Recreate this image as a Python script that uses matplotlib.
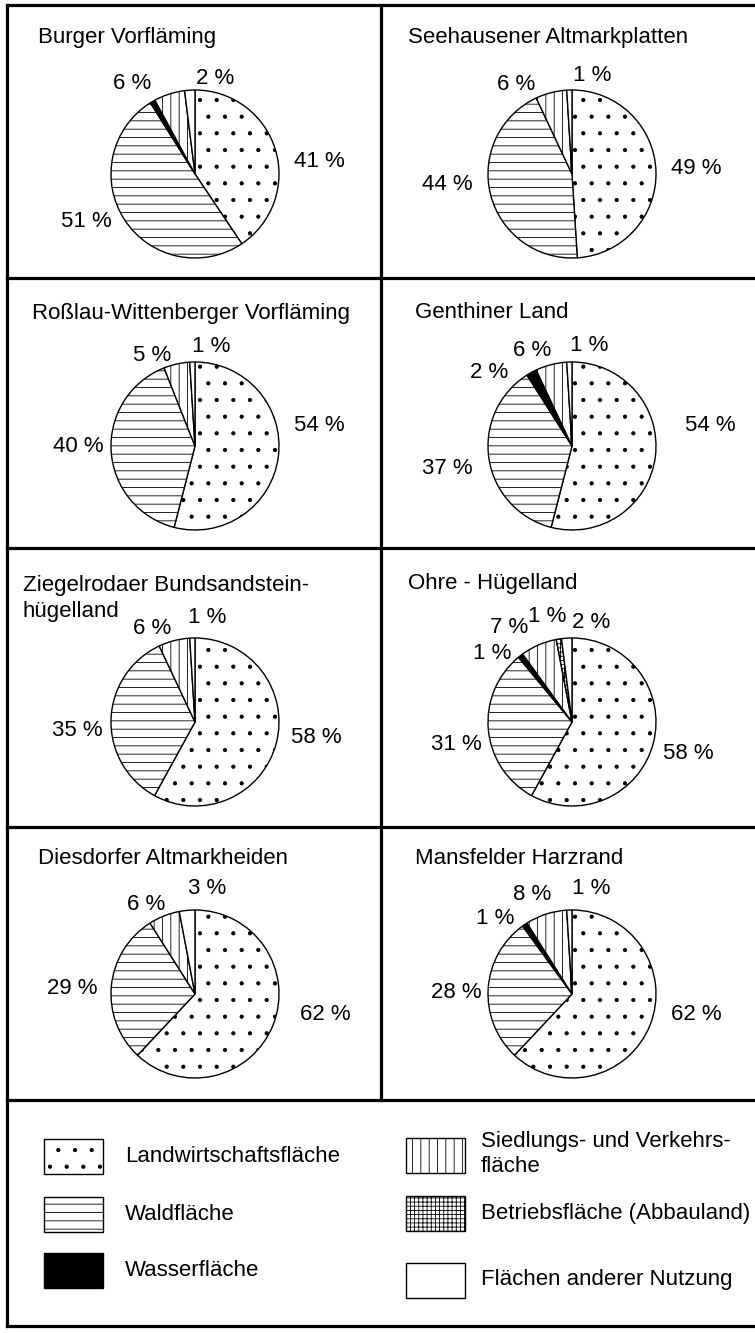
import matplotlib.pyplot as plt
from matplotlib.patches import Rectangle

plt.rcParams['font.family'] = ['Liberation Sans', 'DejaVu Sans']
plt.rcParams['hatch.linewidth'] = 0.6

# Daten: Flächennutzung je Landschaftseinheit (%)
regionen = ['Burger Vorfläming', 'Seehausener Altmarkplatten',
            'Roßlau-Wittenberger Vorfläming', 'Genthiner Land',
            'Ziegelrodaer Bundsandstein-\nhügelland', 'Ohre - Hügelland',
            'Diesdorfer Altmarkheiden', 'Mansfelder Harzrand']
kategorien = ['Landwirtschaftsfläche', 'Waldfläche', 'Wasserfläche',
              'Siedlungs- und Verkehrs-\nfläche', 'Betriebsfläche (Abbauland)',
              'Flächen anderer Nutzung']

landwirtschaft = [41, 49, 54, 54, 58, 58, 62, 62]
wald = [51, 44, 40, 37, 35, 31, 29, 28]
wasser = [1, 0, 0, 2, 0, 1, 0, 1]
siedlung = [6, 6, 5, 6, 6, 7, 6, 8]
betrieb = [0, 0, 0, 0, 0, 1, 0, 0]
andere = [2, 1, 1, 1, 1, 2, 3, 1]

# Stil je Kategorie
farben = ['white', 'white', 'black', 'white', 'white', 'white']
schraffur = ['.', '--', None, '||', '++++', None]

# Lage der Prozentangaben relativ zur Tortenmitte (in Radien)
label_pos = [
    {0: (1.48, 0.15), 1: (-1.29, -0.56), 3: (-0.75, 1.08), 5: (0.24, 1.14)},
    {0: (1.48, 0.06), 1: (-1.49, -0.12), 3: (-0.67, 1.07), 5: (0.24, 1.17)},
    {0: (1.48, 0.24), 1: (-1.39, -0.01), 3: (-0.51, 1.08), 5: (0.19, 1.18)},
    {0: (1.65, 0.24), 1: (-1.48, -0.27), 2: (-0.99, 0.87), 3: (-0.48, 1.14), 5: (0.21, 1.20)},
    {0: (1.45, -0.18), 1: (-1.40, -0.10), 3: (-0.51, 1.11), 5: (0.14, 1.24)},
    {0: (1.38, -0.37), 1: (-1.38, -0.27), 2: (-0.95, 0.82), 3: (-0.75, 1.12),
     4: (-0.29, 1.26), 5: (0.23, 1.18)},
    {0: (1.55, -0.25), 1: (-1.46, 0.06), 3: (-0.58, 1.07), 5: (0.14, 1.25)},
    {0: (1.48, -0.25), 1: (-1.38, 0.02), 2: (-0.92, 0.90), 3: (-0.48, 1.18), 5: (0.23, 1.26)},
]
# Titelposition (x, y der ersten Zeile) in Pixeln
titel_pos = [(38, 37), (408, 37), (32, 314), (415, 312),
             (23, 586), (408, 583), (38, 859), (415, 859)]

W, H = 755, 1333
FS = 16
ZEILE = 26
fig = plt.figure(figsize=(W / 100, H / 100), dpi=100)
fig.patch.set_facecolor('white')

# Hintergrund-Achse in Pixelkoordinaten für Rahmen, Titel, Legende
bg = fig.add_axes([0, 0, 1, 1])
bg.set_xlim(0, W)
bg.set_ylim(H, 0)
bg.axis('off')

lw = 2.3
bg.plot([7, 7], [5, 1326], color='black', lw=lw)
for y in [5, 278, 548, 827, 1100, 1326]:
    bg.plot([7, W], [y, y], color='black', lw=lw)
bg.plot([381, 381], [5, 1100], color='black', lw=lw)

spalten_x = [195, 572]
zeilen_y = [174, 446, 722, 994]
R = 84
S = 1.1

for i, name in enumerate(regionen):
    werte = [landwirtschaft[i], wald[i], wasser[i], siedlung[i], betrieb[i], andere[i]]
    idx = [k for k, v in enumerate(werte) if v > 0]
    cx = spalten_x[i % 2]
    cy = zeilen_y[i // 2]
    size = 2 * R * S
    ax = fig.add_axes([(cx - size / 2) / W, (H - cy - size / 2) / H, size / W, size / H])
    wedges, _ = ax.pie([werte[k] for k in idx], startangle=90, counterclock=False,
                       colors=[farben[k] for k in idx],
                       wedgeprops=dict(edgecolor='black', linewidth=1.0))
    for w, k in zip(wedges, idx):
        if schraffur[k]:
            w.set_hatch(schraffur[k])
    ax.set_xlim(-S, S)
    ax.set_ylim(-S, S)
    ax.set_aspect('equal')
    ax.axis('off')
    for k, (dx, dy) in label_pos[i].items():
        ax.text(dx, dy, f'{werte[k]} %', ha='center', va='center', fontsize=FS)

    # Titel zeilenweise, damit die Textboxen nicht die Labels überdecken
    tx, ty = titel_pos[i]
    for j, zeile in enumerate(name.split('\n')):
        bg.text(tx, ty + j * ZEILE, zeile, ha='left', va='center', fontsize=FS)

# Legende
boxen = [(44, 1139), (44, 1197), (44, 1253), (406, 1138), (406, 1196), (406, 1263)]
text_y = [1156, 1214, 1271, 1141, 1213, 1280]
for k, kat in enumerate(kategorien):
    bx, by = boxen[k]
    bg.add_patch(Rectangle((bx, by), 59, 35, facecolor=farben[k], edgecolor='black',
                           hatch=schraffur[k], lw=1.0))
    tx = 125 if k < 3 else 481
    for j, zeile in enumerate(kat.split('\n')):
        bg.text(tx, text_y[k] + j * ZEILE, zeile, ha='left', va='center', fontsize=FS)

fig.savefig('out.png', dpi=100)
